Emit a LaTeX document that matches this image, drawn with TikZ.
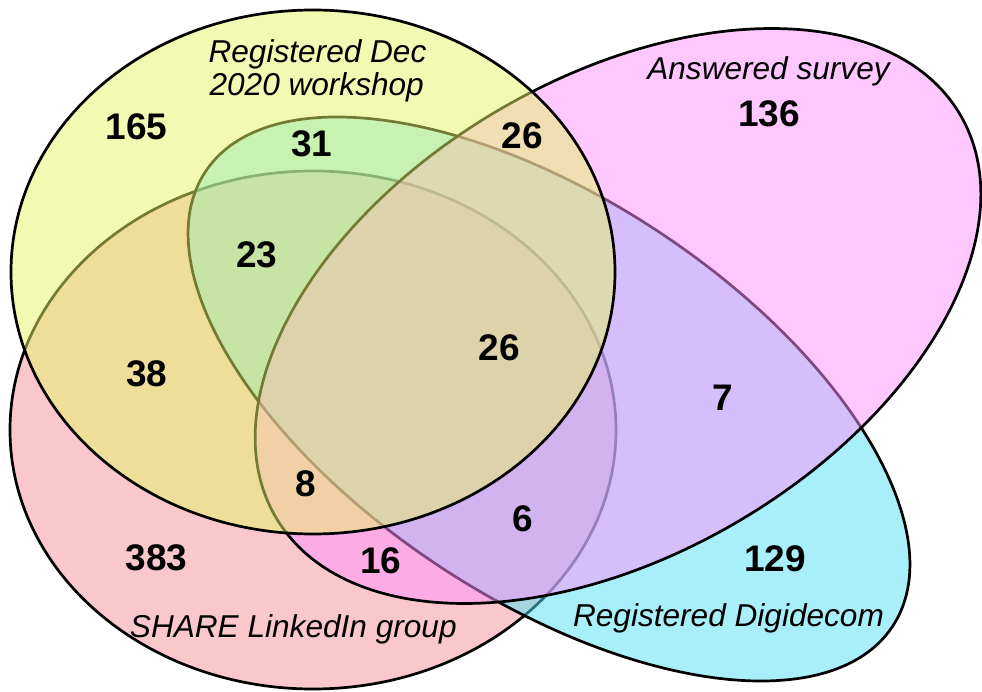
\documentclass[tikz,border=0pt]{standalone}
\usepackage{fontspec}
\setmainfont{Liberation Sans}
\begin{document}
\begin{tikzpicture}[x=1pt,y=-1pt]
\definecolor{cA}{RGB}{231,245,105}
\definecolor{cB}{RGB}{255,145,255}
\definecolor{cC}{RGB}{245,145,155}
\definecolor{cD}{RGB}{85,225,245}
\tikzset{
  setshape/.style={fill opacity=0.5, draw=black, line width=2.7pt},
  setlabel/.style={inner sep=0pt, anchor=base, font=\itshape\fontsize{31.6}{34}\selectfont},
  count/.style={inner sep=0pt, anchor=center, font=\bfseries\fontsize{37}{40}\selectfont}
}
\useasboundingbox (0,0) rectangle (982,692);
\fill[white] (0,0) rectangle (982,692);
% SHARE LinkedIn group
\filldraw[setshape, fill=cC] (313,430) ellipse [x radius=303pt, y radius=259pt];
% Registered Digidecom
\filldraw[setshape, fill=cD, rotate around={-33.5:(549,399)}] (549,399) ellipse [x radius=412pt, y radius=200pt];
% Answered survey
\filldraw[setshape, fill=cB, rotate around={30.5:(618,316)}] (618,316) ellipse [x radius=397pt, y radius=238pt];
% Registered Dec 2020 workshop
\filldraw[setshape, fill=cA] (313,272) ellipse [x radius=302pt, y radius=262pt];

\node[setlabel] (labA1) at (317.5,63) {Registered Dec};
\node[setlabel] (labA2) at (316.7,96) {2020 workshop};
\node[setlabel] (labB) at (768.5,80) {Answered survey};
\node[setlabel] (labC) at (293.3,637.7) {SHARE LinkedIn group};
\node[setlabel] (labD) at (728.5,626) {Registered Digidecom};

\node[count] (n165) at (136.7,126.7) {165};
\node[count] (n31) at (311.7,144) {31};
\node[count] (n26a) at (522,136) {26};
\node[count] (n136) at (769,114) {136};
\node[count] (n23) at (257,255) {23};
\node[count] (n26b) at (499,348) {26};
\node[count] (n38) at (146.7,374) {38};
\node[count] (n7) at (722.7,397.7) {7};
\node[count] (n8) at (306,483.5) {8};
\node[count] (n6) at (523,518.5) {6};
\node[count] (n383) at (156.7,557.7) {383};
\node[count] (n16) at (380.8,561) {16};
\node[count] (n129) at (775,558.5) {129};
\end{tikzpicture}
\end{document}
